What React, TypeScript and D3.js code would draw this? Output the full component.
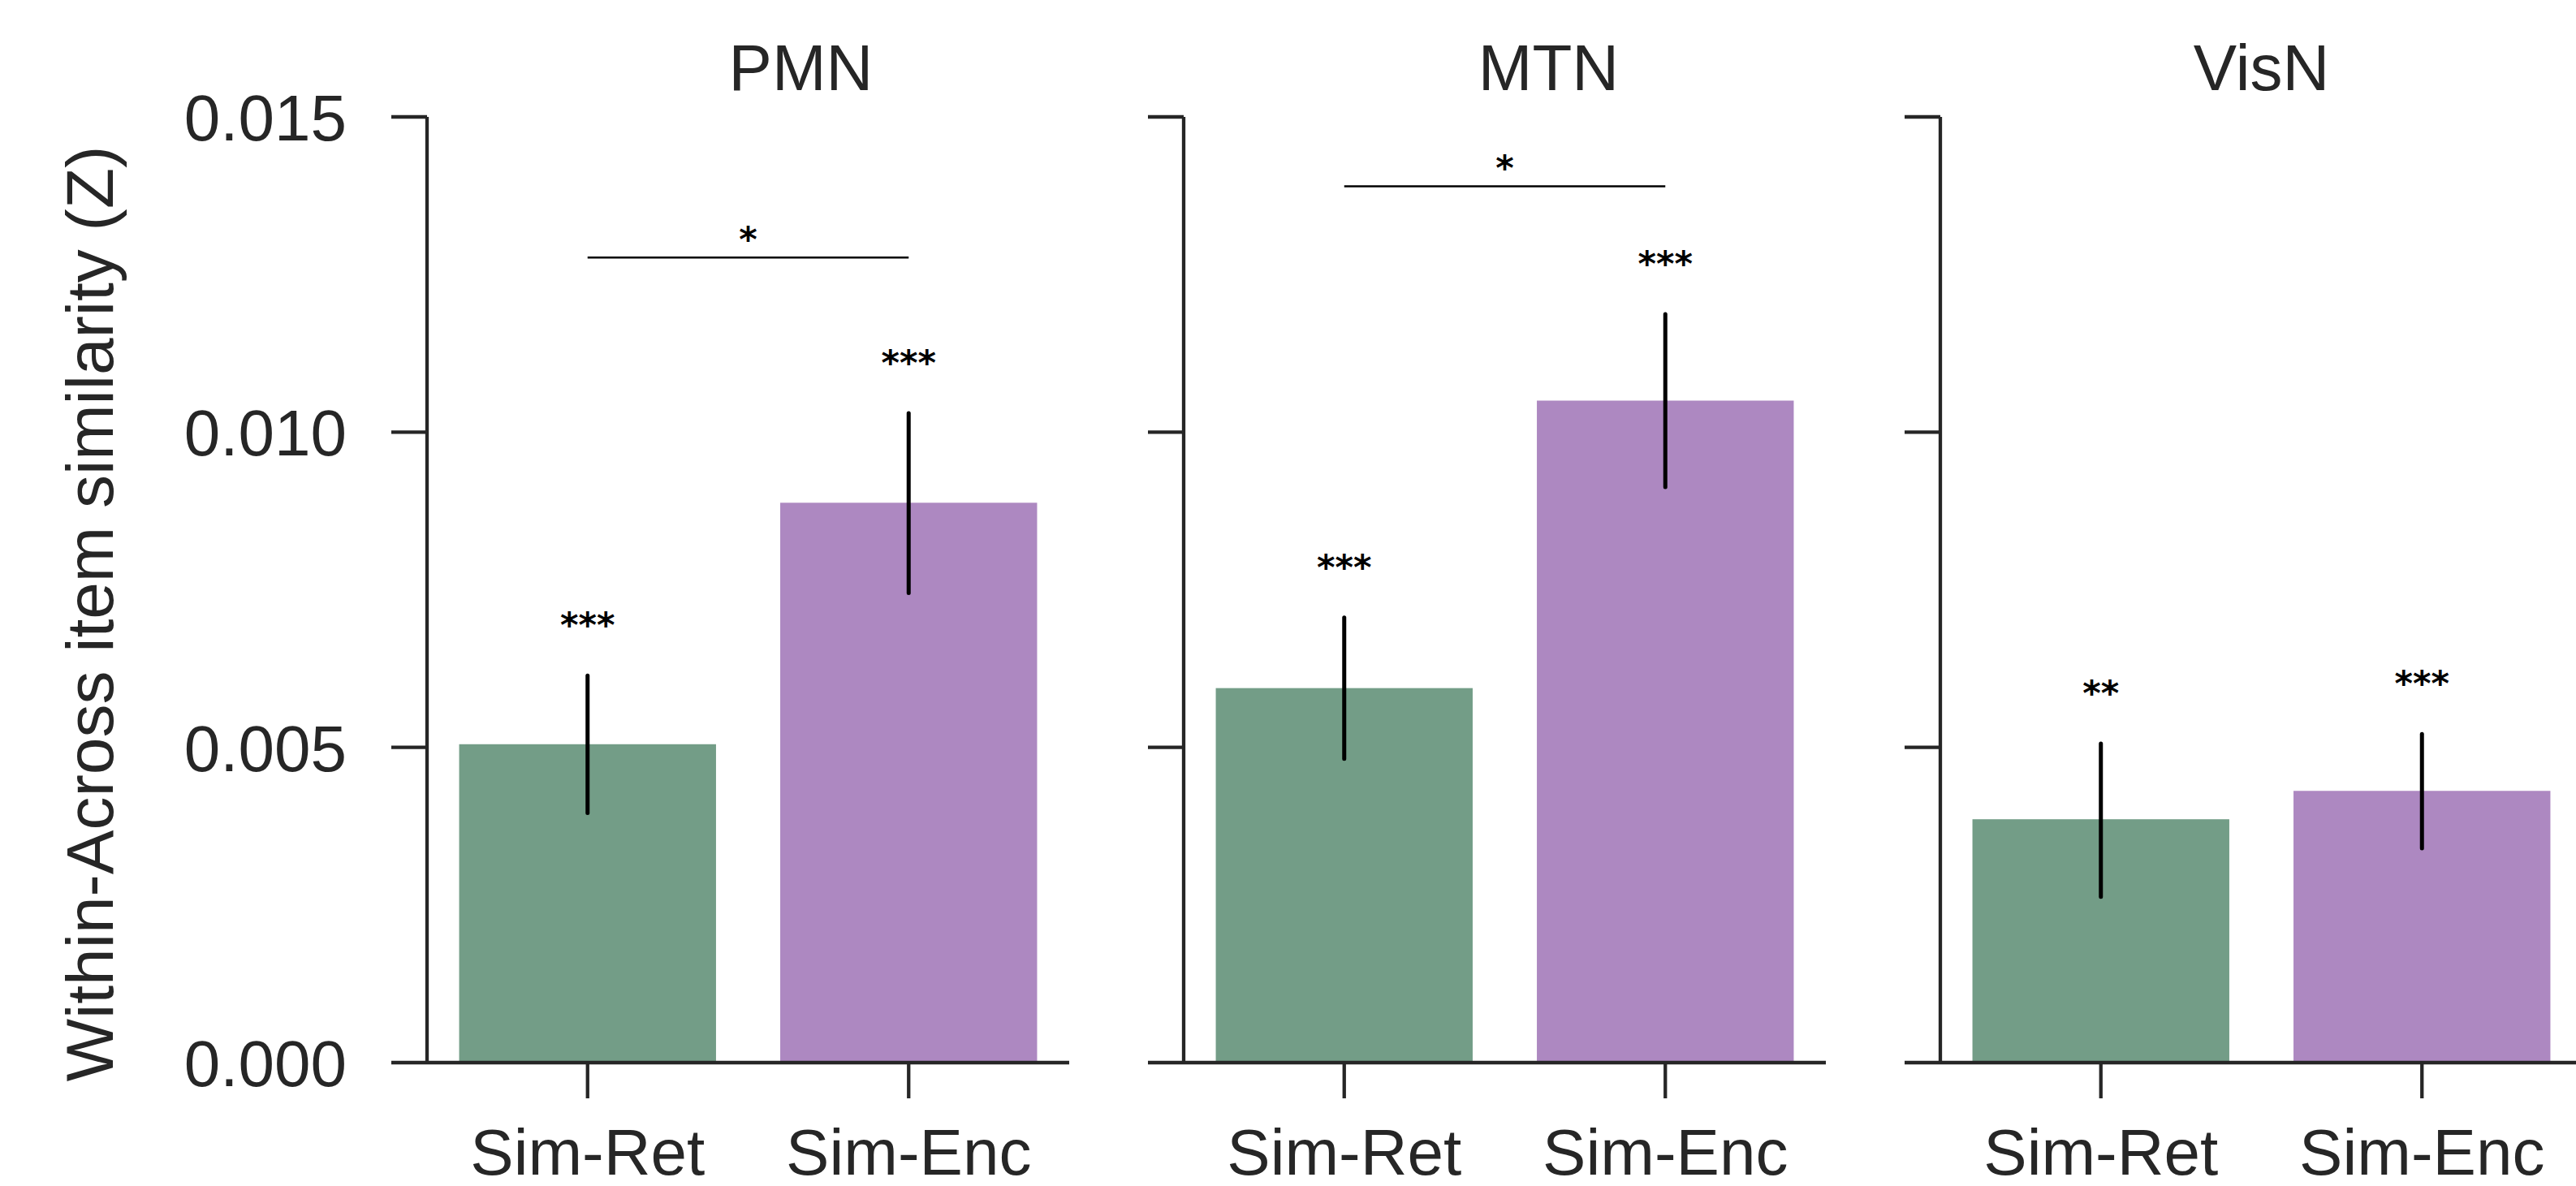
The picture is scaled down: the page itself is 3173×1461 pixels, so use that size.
import * as d3 from 'd3';

// Regions (one panel each) and the two conditions
const regions = ['PMN', 'MTN', 'VisN'];
const conditions = ['Sim-Ret', 'Sim-Enc'];

// Mean and CI per region, per condition
const simRetMean = [0.00505, 0.00594, 0.00386];
const simRetLow = [0.00396, 0.00482, 0.00263];
const simRetHigh = [0.00614, 0.00706, 0.00506];

const simEncMean = [0.00888, 0.0105, 0.00431];
const simEncLow = [0.00745, 0.00913, 0.0034];
const simEncHigh = [0.0103, 0.01187, 0.00521];

// significance vs zero
const simRetStars = ['***', '***', '**'];
const simEncStars = ['***', '***', '***'];

// Ret vs Enc comparison bracket (value units), null = none
const pairBracket = [0.01277, 0.0139, null];
const pairStars = ['*', '*', ''];

const yTicks = [0, 0.005, 0.01, 0.015];
const yTickLabels = ['0.000', '0.005', '0.010', '0.015'];

const colors = ['#739d87', '#ad88c1'];

const WIDTH = 3173;
const HEIGHT = 1461;
const PANEL_LEFT = 526;
const PANEL_STEP = 932;
const PANEL_W = 791;
const Y_TOP = 144;
const Y_BOTTOM = 1309;
const TICK = 44;
const INK = '#262626';
const FONT = '"Liberation Sans", Arial, Helvetica, sans-serif';
const STAR_FONT = '"DejaVu Sans", sans-serif';
// titles sit a little right of panel centre in the original
const TITLE_SHIFT = [65, 54, 0];

export default function App() {
  const y = d3.scaleLinear().domain([0, 0.015]).range([Y_BOTTOM, Y_TOP]);
  const x = d3.scaleBand<string>()
    .domain(conditions)
    .range([0, PANEL_W])
    .paddingInner(0.2)
    .paddingOuter(0.1);

  const means = [simRetMean, simEncMean];
  const lows = [simRetLow, simEncLow];
  const highs = [simRetHigh, simEncHigh];
  const stars = [simRetStars, simEncStars];

  return (
    <svg
      width={WIDTH}
      height={HEIGHT}
      viewBox={`0 0 ${WIDTH} ${HEIGHT}`}
      style={{ position: 'absolute', left: 0, top: 0, background: '#fff' }}
    >
      <rect width={WIDTH} height={HEIGHT} fill="#fff" />

      {/* Y axis label */}
      <text
        transform={`translate(139,756) rotate(-90)`}
        textAnchor="middle"
        fontFamily={FONT}
        fontSize={82}
        fill={INK}
      >
        Within-Across item similarity (Z)
      </text>

      {/* Y tick labels (first panel only) */}
      {yTicks.map((t, i) => (
        <text
          key={t}
          x={PANEL_LEFT - TICK - 55}
          y={y(t) + 29}
          textAnchor="end"
          fontFamily={FONT}
          fontSize={80}
          fill={INK}
        >
          {yTickLabels[i]}
        </text>
      ))}

      {regions.map((region, r) => {
        const left = PANEL_LEFT + r * PANEL_STEP;
        const cx = (c: string) => (x(c) ?? 0) + x.bandwidth() / 2;
        return (
          <g key={region} transform={`translate(${left},0)`}>
            <text
              x={PANEL_W / 2 + TITLE_SHIFT[r]}
              y={111}
              textAnchor="middle"
              fontFamily={FONT}
              fontSize={80}
              fill={INK}
            >
              {region}
            </text>

            {/* bars */}
            {conditions.map((c, ci) => (
              <rect
                key={c}
                x={x(c)}
                y={y(means[ci][r])}
                width={x.bandwidth()}
                height={y(0) - y(means[ci][r])}
                fill={colors[ci]}
              />
            ))}

            {/* error bars */}
            {conditions.map((c, ci) => (
              <line
                key={c}
                x1={cx(c)}
                x2={cx(c)}
                y1={y(lows[ci][r])}
                y2={y(highs[ci][r])}
                stroke="#000"
                strokeWidth={5}
                strokeLinecap="round"
              />
            ))}

            {/* stars vs zero */}
            {conditions.map((c, ci) => (
              <text
                key={c}
                x={cx(c)}
                y={y(highs[ci][r]) - 72 + 25}
                textAnchor="middle"
                fontFamily={STAR_FONT}
                fontWeight="bold"
                fontSize={43}
                fill="#000"
              >
                {stars[ci][r]}
              </text>
            ))}

            {/* comparison bracket */}
            {pairBracket[r] !== null && (
              <g>
                <line
                  x1={cx(conditions[0])}
                  x2={cx(conditions[1])}
                  y1={y(pairBracket[r] as number)}
                  y2={y(pairBracket[r] as number)}
                  stroke="#000"
                  strokeWidth={2.5}
                />
                <text
                  x={(cx(conditions[0]) + cx(conditions[1])) / 2}
                  y={y(pairBracket[r] as number) - 32 + 25}
                  textAnchor="middle"
                  fontFamily={STAR_FONT}
                  fontWeight="bold"
                  fontSize={43}
                  fill="#000"
                >
                  {pairStars[r]}
                </text>
              </g>
            )}

            {/* y spine + ticks */}
            <line x1={0} x2={0} y1={Y_TOP} y2={Y_BOTTOM} stroke={INK} strokeWidth={4.3} />
            {yTicks.map((t) => (
              <line key={t} x1={-TICK} x2={0} y1={y(t)} y2={y(t)} stroke={INK} strokeWidth={4.3} />
            ))}

            {/* x spine + ticks + labels */}
            <line x1={0} x2={PANEL_W} y1={Y_BOTTOM} y2={Y_BOTTOM} stroke={INK} strokeWidth={4.3} />
            {conditions.map((c) => (
              <g key={c}>
                <line x1={cx(c)} x2={cx(c)} y1={Y_BOTTOM} y2={Y_BOTTOM + TICK} stroke={INK} strokeWidth={4.3} />
                <text
                  x={cx(c)}
                  y={1447}
                  textAnchor="middle"
                  fontFamily={FONT}
                  fontSize={80}
                  fill={INK}
                >
                  {c}
                </text>
              </g>
            ))}
          </g>
        );
      })}
    </svg>
  );
}
